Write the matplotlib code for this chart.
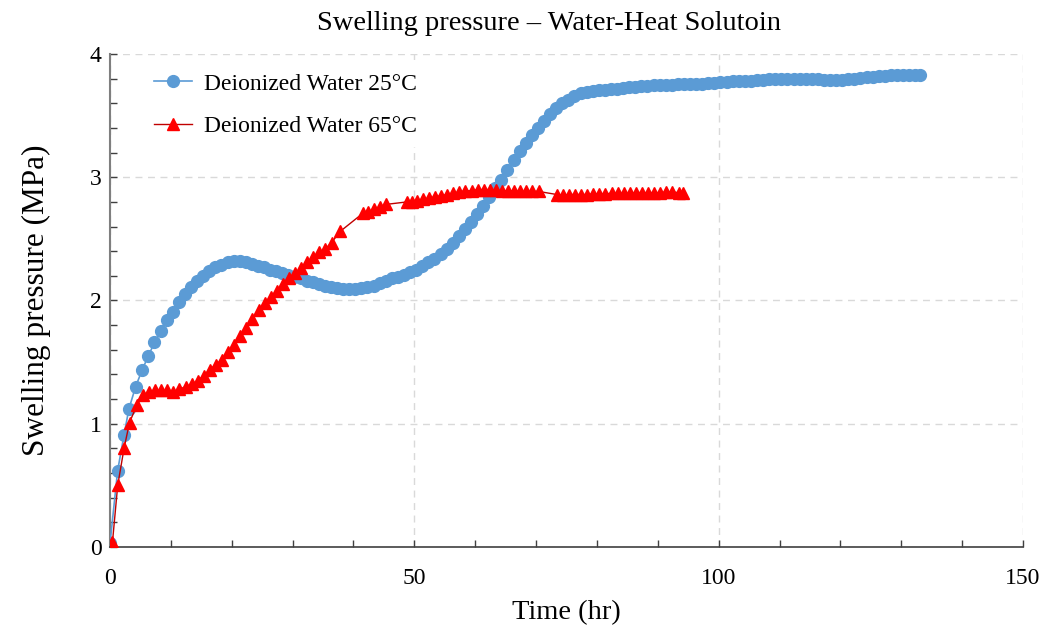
import numpy as np
import matplotlib.pyplot as plt
from matplotlib.ticker import MultipleLocator

# Deionized water 25 C
t25 = [0, 1.25, 2.3, 3.1, 4.2, 5.3, 6.3, 7.3, 8.3, 9.3,
       10.3, 11.3, 12.3, 13.3, 14.3, 15.3, 16.3, 17.3, 18.3, 19.3,
       20.3, 21.3, 22.3, 23.3, 24.3, 25.3, 26.3, 27.3, 28.3, 29.3,
       30.3, 31.3, 32.3, 33.3, 34.3, 35.3, 36.3, 37.3, 38.3, 39.3,
       40.3, 41.3, 42.3, 43.3, 44.3, 45.3, 46.3, 47.3, 48.3, 49.3,
       50.3, 51.3, 52.3, 53.3, 54.3, 55.3, 56.3, 57.3, 58.3, 59.3,
       60.3, 61.3, 62.3, 63.3, 64.3, 65.3, 66.3, 67.3, 68.3, 69.3,
       70.3, 71.3, 72.3, 73.3, 74.3, 75.3, 76.3, 77.3, 78.3, 79.3,
       80.3, 81.3, 82.3, 83.3, 84.3, 85.3, 86.3, 87.3, 88.3, 89.3,
       90.3, 91.3, 92.3, 93.3, 94.3, 95.3, 96.3, 97.3, 98.3, 99.3,
       100.3, 101.3, 102.3, 103.3, 104.3, 105.3, 106.3, 107.3, 108.3, 109.3,
       110.3, 111.3, 112.3, 113.3, 114.3, 115.3, 116.3, 117.3, 118.3, 119.3,
       120.3, 121.3, 122.3, 123.3, 124.3, 125.3, 126.3, 127.3, 128.3, 129.3,
       130.3, 131.3, 132.3, 133.1]
p25 = [0.03, 0.62, 0.91, 1.12, 1.30, 1.44, 1.55, 1.66, 1.75, 1.84,
       1.91, 1.99, 2.05, 2.11, 2.16, 2.20, 2.24, 2.27, 2.29, 2.31,
       2.32, 2.32, 2.31, 2.30, 2.28, 2.27, 2.25, 2.24, 2.22, 2.21,
       2.19, 2.18, 2.16, 2.15, 2.13, 2.12, 2.11, 2.10, 2.09, 2.09,
       2.09, 2.10, 2.11, 2.12, 2.14, 2.16, 2.18, 2.19, 2.21, 2.23,
       2.25, 2.28, 2.31, 2.34, 2.38, 2.42, 2.47, 2.52, 2.58, 2.64,
       2.70, 2.77, 2.84, 2.91, 2.98, 3.06, 3.14, 3.21, 3.28, 3.34,
       3.40, 3.46, 3.51, 3.56, 3.60, 3.63, 3.66, 3.68, 3.69, 3.70,
       3.705, 3.71, 3.715, 3.72, 3.725, 3.73, 3.735, 3.74, 3.74, 3.745,
       3.745, 3.75, 3.75, 3.755, 3.755, 3.755, 3.76, 3.76, 3.765, 3.765,
       3.77, 3.775, 3.78, 3.78, 3.785, 3.785, 3.79, 3.79, 3.795, 3.795,
       3.80, 3.80, 3.80, 3.80, 3.80, 3.80, 3.795, 3.79, 3.79, 3.79,
       3.79, 3.795, 3.80, 3.805, 3.81, 3.815, 3.82, 3.825, 3.83, 3.83,
       3.83, 3.83, 3.83, 3.83]

# Deionized water 65 C
t65 = [0, 0.4, 1.26, 2.3, 3.2, 4.4, 5.4, 6.4, 7.4, 8.4, 9.4,
       10.4, 11.4, 12.4, 13.4, 14.4, 15.4, 16.4, 17.4, 18.4, 19.4,
       20.4, 21.4, 22.4, 23.4, 24.4, 25.4, 26.4, 27.4, 28.4, 29.4,
       30.4, 31.4, 32.4, 33.4, 34.4, 35.4, 36.4, 37.8, 41.6, 42.4,
       43.4, 44.4, 45.4, 48.8, 49.6, 50.4, 51.4, 52.4, 53.4, 54.4,
       55.4, 56.4, 57.4, 58.4, 59.4, 60.4, 61.4, 62.4, 63.4, 64.4,
       65.4, 66.4, 67.4, 68.4, 69.4, 70.4, 73.4, 74.4, 75.4, 76.4,
       77.4, 78.4, 79.4, 80.4, 81.4, 82.4, 83.4, 84.4, 85.4, 86.4,
       87.4, 88.4, 89.4, 90.4, 91.4, 92.4, 93.4, 94.2]
p65 = [0.0, 0.04, 0.50, 0.80, 1.01, 1.15, 1.23, 1.26, 1.27, 1.27, 1.27,
       1.26, 1.28, 1.30, 1.32, 1.35, 1.39, 1.44, 1.48, 1.52, 1.58,
       1.64, 1.71, 1.78, 1.85, 1.92, 1.98, 2.03, 2.08, 2.13, 2.18,
       2.22, 2.26, 2.31, 2.35, 2.39, 2.42, 2.47, 2.56, 2.71, 2.72,
       2.74, 2.76, 2.78, 2.80, 2.80, 2.81, 2.82, 2.83, 2.84, 2.85,
       2.86, 2.87, 2.88, 2.89, 2.89, 2.90, 2.90, 2.90, 2.895, 2.89,
       2.89, 2.89, 2.885, 2.885, 2.885, 2.885, 2.86, 2.855, 2.86, 2.86,
       2.86, 2.86, 2.865, 2.865, 2.865, 2.87, 2.87, 2.87, 2.87, 2.875,
       2.875, 2.875, 2.875, 2.875, 2.88, 2.88, 2.875, 2.875]

plt.rcParams['font.family'] = ['Liberation Serif', 'DejaVu Serif']

fig = plt.figure(figsize=(10.46, 6.28), dpi=100)
ax = fig.add_axes([0.1052, 0.129, 0.8728, 0.785])

ax.plot(t25, p25, color='#5B9BD5', marker='o', markersize=8.5, linewidth=1.2,
        label='Deionized Water 25°C', zorder=3)
ax.plot(t65, p65, color='#C00000', marker='^', markersize=9, linewidth=1.0,
        markerfacecolor='#FF0000', markeredgecolor='#FF0000',
        label='Deionized Water 65°C', zorder=4)

ax.set_xlim(0, 150)
ax.set_ylim(0, 4)
ax.xaxis.set_major_locator(MultipleLocator(50))
ax.xaxis.set_minor_locator(MultipleLocator(10))
ax.yaxis.set_major_locator(MultipleLocator(1))
ax.yaxis.set_minor_locator(MultipleLocator(0.2))
ax.tick_params(which='both', direction='in', length=5, width=1, labelsize=17,
               colors='#404040', labelcolor='black')
ax.tick_params(axis='x', which='major', pad=15)
ax.tick_params(axis='y', which='major', pad=6)

for s in ['top', 'right']:
    ax.spines[s].set_visible(False)
ax.spines['left'].set_color('#7F7F7F')
ax.spines['left'].set_linewidth(1.5)
ax.spines['bottom'].set_color('#404040')
ax.spines['bottom'].set_linewidth(1.2)

ax.grid(True, which='major', color='#D9D9D9', linestyle=(0, (5, 4)), linewidth=1)
ax.set_axisbelow(True)

ax.set_xlabel('Time (hr)', fontsize=20.5, labelpad=8)
ax.set_ylabel('Swelling pressure (MPa)', fontsize=22.5, labelpad=28)
fig.text(0.525, 0.962, 'Swelling pressure – Water-Heat Solutoin', fontsize=20.5,
         ha='center', va='center')

leg = ax.legend(loc='upper left', bbox_to_anchor=(0.03, 0.995), frameon=True,
                fontsize=17, handlelength=1.6, handletextpad=0.5,
                labelspacing=0.9, borderaxespad=0.3)
leg.get_frame().set_edgecolor('none')
leg.get_frame().set_facecolor('white')
leg.get_frame().set_alpha(1)

plt.savefig('out.png', dpi=100)
